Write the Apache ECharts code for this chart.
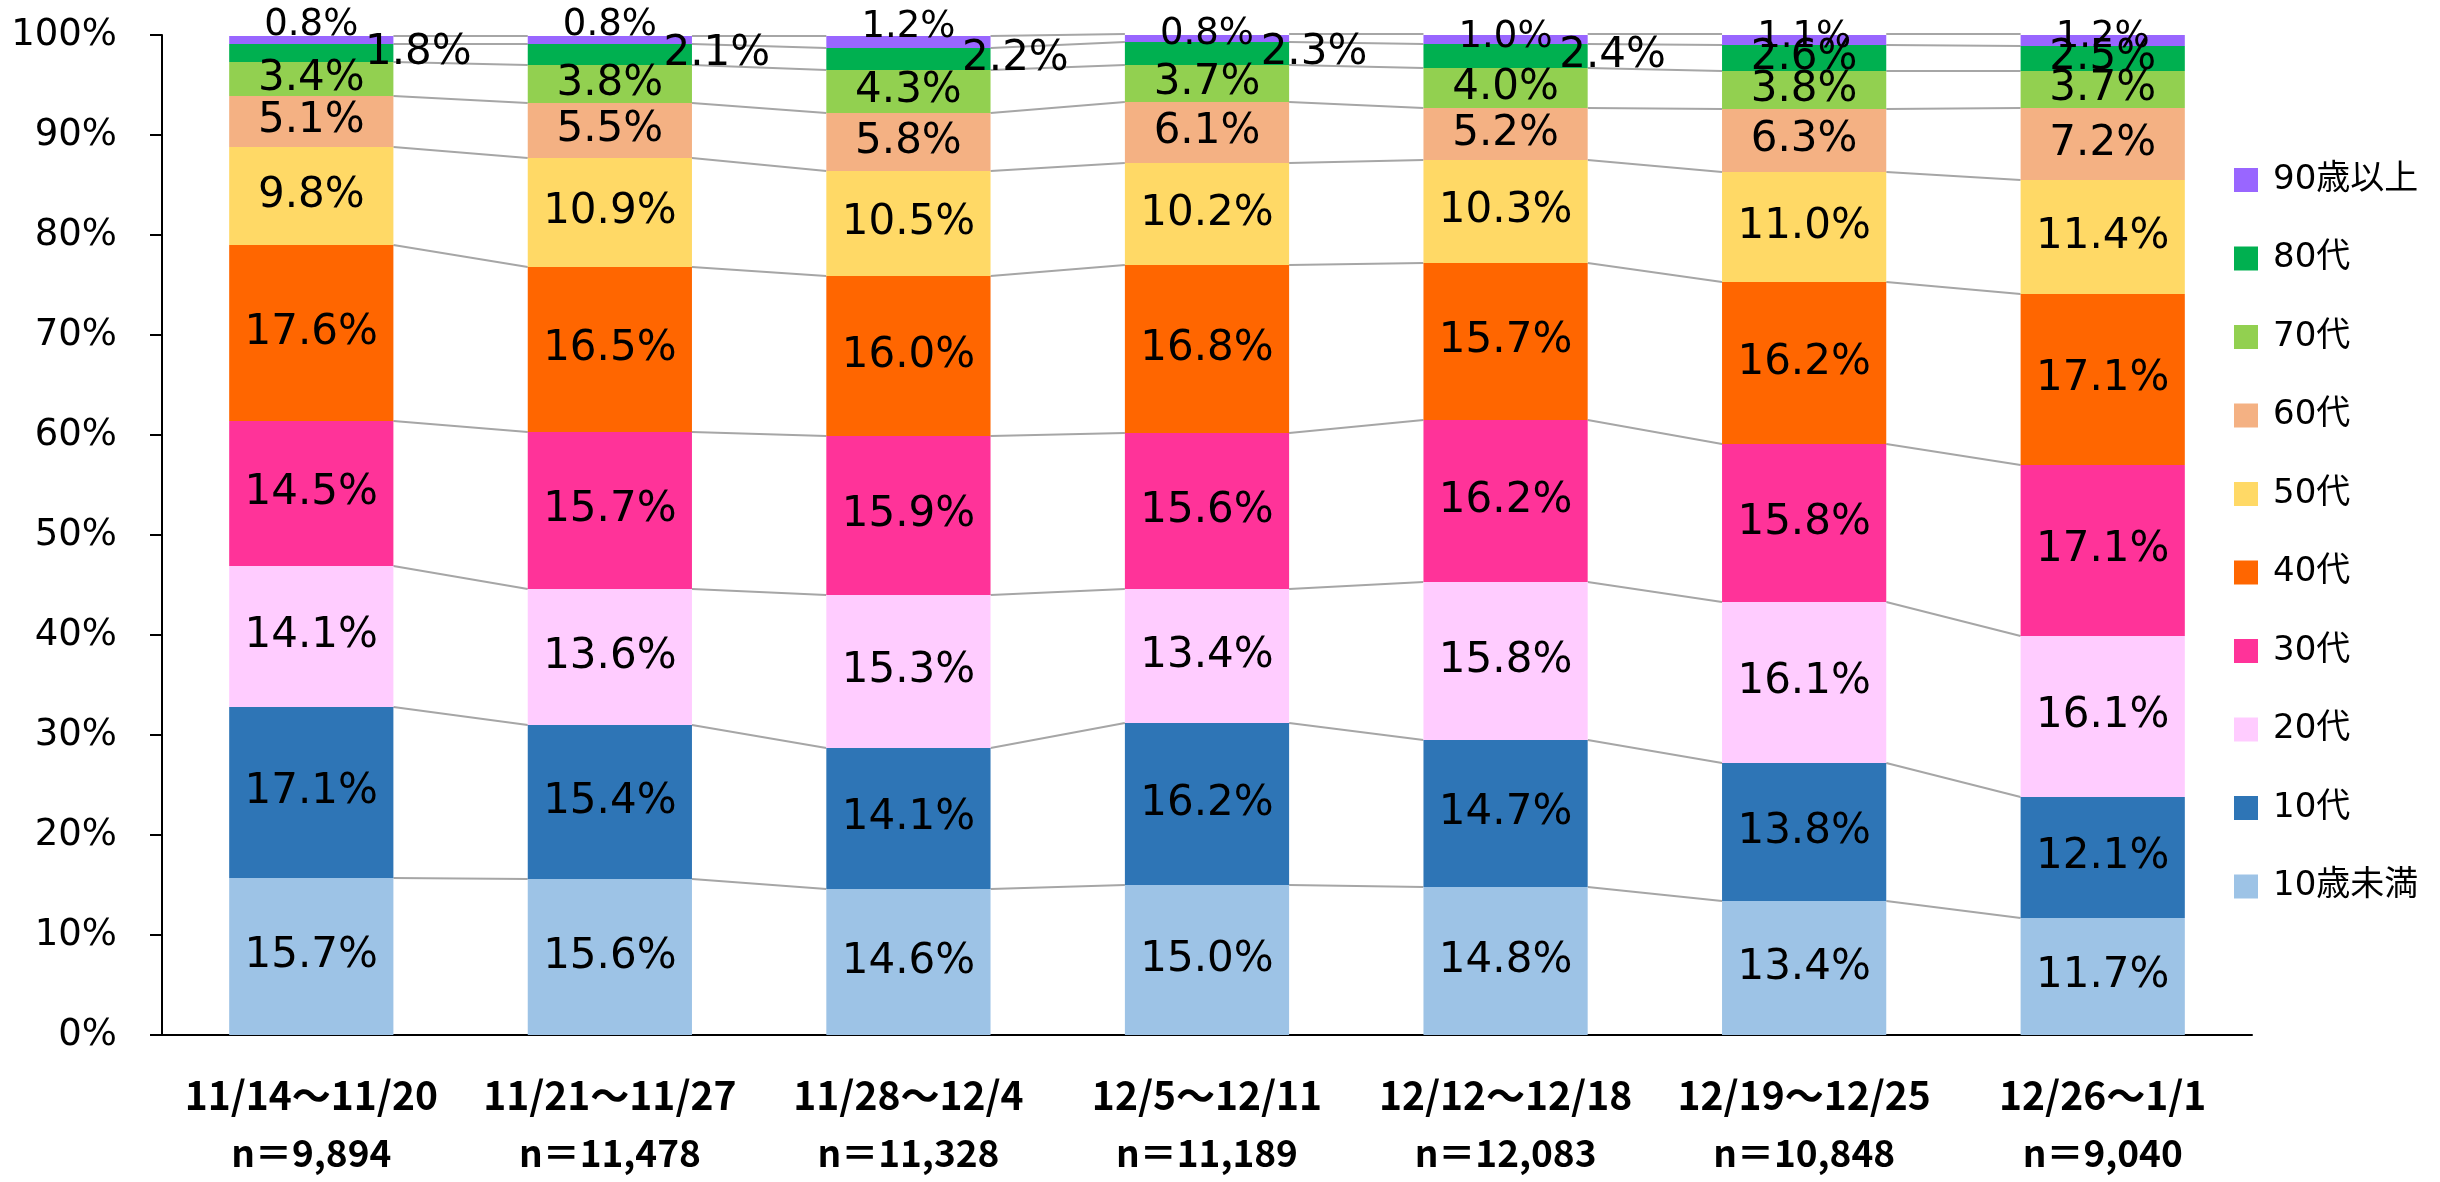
<!DOCTYPE html>
<html>
<head>
<meta charset="utf-8">
<script src="https://cdn.jsdelivr.net/npm/echarts@6/dist/echarts.min.js"></script>
<style>
html,body{margin:0;padding:0;background:#fff;}
#chart{width:2440px;height:1182px;}
</style>
</head>
<body>
<div id="chart"></div>
<script>
const categories = ['11/14～11/20', '11/21～11/27', '11/28～12/4', '12/5～12/11', '12/12～12/18', '12/19～12/25', '12/26～1/1'];
const sampleSizes = ['n＝9,894', 'n＝11,478', 'n＝11,328', 'n＝11,189', 'n＝12,083', 'n＝10,848', 'n＝9,040'];
const yTicks = [0, 10, 20, 30, 40, 50, 60, 70, 80, 90, 100];

const seriesNames = ['10歳未満', '10代', '20代', '30代', '40代', '50代', '60代', '70代', '80代', '90歳以上'];
const under10 = [15.7, 15.6, 14.6, 15.0, 14.8, 13.4, 11.7];
const age10s  = [17.1, 15.4, 14.1, 16.2, 14.7, 13.8, 12.1];
const age20s  = [14.1, 13.6, 15.3, 13.4, 15.8, 16.1, 16.1];
const age30s  = [14.5, 15.7, 15.9, 15.6, 16.2, 15.8, 17.1];
const age40s  = [17.6, 16.5, 16.0, 16.8, 15.7, 16.2, 17.1];
const age50s  = [9.8, 10.9, 10.5, 10.2, 10.3, 11.0, 11.4];
const age60s  = [5.1, 5.5, 5.8, 6.1, 5.2, 6.3, 7.2];
const age70s  = [3.4, 3.8, 4.3, 3.7, 4.0, 3.8, 3.7];
const age80s  = [1.8, 2.1, 2.2, 2.3, 2.4, 2.6, 2.5];
const over90  = [0.8, 0.8, 1.2, 0.8, 1.0, 1.1, 1.2];

const seriesValues = [under10, age10s, age20s, age30s, age40s, age50s, age60s, age70s, age80s, over90];
const colors = ['#9DC3E6', '#2E75B6', '#FFCCFF', '#FF3399', '#FF6600', '#FFD966', '#F4B183', '#92D050', '#00B050', '#9966FF'];

// label placement tweaks (styles, kept apart from data)
const shift80 = [[107,0],[107,0],[107,0],[107,0],[107,0],[0,0],[0,0]];
const shift90 = [[0,-15],[0,-15],[0,-15],[0,-4],[0,-2],[0,-3],[0,-3]];

const fmt = v => v.toFixed(1) + '%';
const BAR_FRAC = 0.55;

const barSeries = seriesValues.map((vals, si) => {
  const s = {
    name: seriesNames[si],
    type: 'bar',
    stack: 'total',
    barWidth: (BAR_FRAC * 100) + '%',
    itemStyle: { color: colors[si] },
    z: 2,
    data: vals.slice(),
    label: {
      show: true,
      position: 'inside',
      formatter: p => fmt(p.value),
      color: '#000',
      fontFamily: 'DejaVu Sans',
      fontSize: si === 9 ? 37 : 42
    }
  };
  if (si === 8) s.labelLayout = p => ({ dx: shift80[p.dataIndex][0], dy: shift80[p.dataIndex][1], hideOverlap: false });
  else if (si === 9) s.labelLayout = p => ({ dx: shift90[p.dataIndex][0], dy: shift90[p.dataIndex][1], hideOverlap: false });
  else s.labelLayout = { hideOverlap: false };
  return s;
});

// cumulative tops for series lines
const cum = seriesValues.map(() => []);
for (let ci = 0; ci < categories.length; ci++) {
  let s = 0;
  for (let si = 0; si < seriesValues.length; si++) {
    s += seriesValues[si][ci];
    cum[si][ci] = s;
  }
}
const lineData = [];
for (let si = 0; si < seriesValues.length; si++) {
  for (let ci = 0; ci < categories.length - 1; ci++) {
    lineData.push([ci, cum[si][ci], cum[si][ci + 1]]);
  }
}

const seriesLines = {
  type: 'custom',
  silent: true,
  z: 1,
  encode: { x: 0, y: 1 },
  data: lineData,
  renderItem: (params, api) => {
    const i = api.value(0);
    const p1 = api.coord([i, api.value(1)]);
    const p2 = api.coord([i + 1, api.value(2)]);
    const bw = api.size([1, 0])[0] * BAR_FRAC;
    return {
      type: 'line',
      shape: { x1: p1[0] + bw / 2, y1: p1[1], x2: p2[0] - bw / 2, y2: p2[1] },
      style: { stroke: '#A6A6A6', lineWidth: 2 }
    };
  }
};

const chart = echarts.init(document.getElementById('chart'));
chart.setOption({
  animation: false,
  backgroundColor: '#fff',
  grid: { left: 162, right: 188, top: 35, bottom: 147 },
  legend: {
    orient: 'vertical',
    left: 2229,
    top: 158,
    itemWidth: 24,
    itemHeight: 24,
    itemGap: 44.5,
    icon: 'rect',
    data: seriesNames.slice().reverse(),
    textStyle: {
      fontFamily: 'DejaVu Sans, Noto Sans CJK JP',
      fontSize: 34,
      color: '#000',
      padding: [0, 0, 0, 10]
    }
  },
  xAxis: {
    type: 'category',
    data: categories,
    axisTick: { show: false },
    axisLine: { lineStyle: { color: '#000', width: 2 } },
    axisLabel: {
      interval: 0,
      margin: 32,
      formatter: (val, idx) => `{d|${val}}\n{n|${sampleSizes[idx]}}`,
      rich: {
        d: { fontFamily: 'Noto Sans CJK JP', fontWeight: 'bold', fontSize: 39, lineHeight: 56, color: '#000' },
        n: { fontFamily: 'Noto Sans CJK JP', fontWeight: 'bold', fontSize: 37, lineHeight: 60, color: '#000' }
      }
    }
  },
  yAxis: {
    type: 'value',
    min: yTicks[0],
    max: yTicks[yTicks.length - 1],
    interval: 10,
    splitLine: { show: false },
    axisLine: { show: true, lineStyle: { color: '#000', width: 2 } },
    axisTick: { show: true, length: 12, lineStyle: { color: '#000', width: 2 } },
    axisLabel: {
      margin: 45,
      formatter: '{value}%',
      fontFamily: 'DejaVu Sans',
      fontSize: 37,
      color: '#000'
    }
  },
  series: [...barSeries, seriesLines]
});
</script>
</body>
</html>
